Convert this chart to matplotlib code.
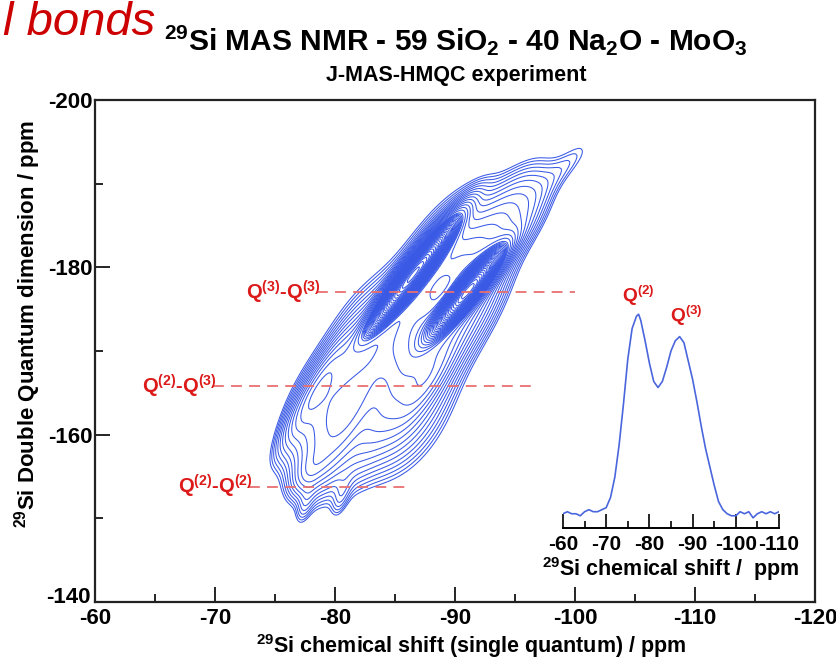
import numpy as np
import matplotlib
matplotlib.use("Agg")
import matplotlib.pyplot as plt
from matplotlib.ticker import MultipleLocator

plt.rcParams['font.family'] = ['Liberation Sans', 'DejaVu Sans']
plt.rcParams['font.weight'] = 'bold'
plt.rcParams['axes.labelweight'] = 'bold'
plt.rcParams['axes.unicode_minus'] = False
plt.rcParams['mathtext.fontset'] = 'custom'
plt.rcParams['mathtext.rm'] = 'Liberation Sans:bold'
plt.rcParams['mathtext.bf'] = 'Liberation Sans:bold'
plt.rcParams['mathtext.it'] = 'Liberation Sans:bold'
plt.rcParams['mathtext.default'] = 'bf'

#==============================================
# 1D 29Si MAS spectrum (inset)
shift_1d = [-60, -61, -62, -63, -64, -65, -66, -67, -68, -69, -70, -71, -72, -73,
            -74, -75, -76, -77, -77.5, -78, -79, -80, -81, -82, -83, -84, -85,
            -86, -87, -88, -89, -90, -91, -92, -93, -94, -95, -96, -97, -98,
            -99, -100, -101, -102, -103, -104, -105, -106, -107, -108, -109, -110]
inten_1d = [0.02, 0.03, 0.02, 0.02, 0.01, 0.03, 0.04, 0.03, 0.03, 0.04, 0.05, 0.10, 0.20, 0.36,
            0.56, 0.78, 0.93, 0.99, 1.00, 0.97, 0.87, 0.76, 0.67, 0.64, 0.67, 0.74, 0.82,
            0.87, 0.89, 0.86, 0.77, 0.68, 0.57, 0.45, 0.34, 0.25, 0.16, 0.08, 0.04, 0.02,
            0.01, 0.01, 0.03, 0.02, 0.03, 0.00, 0.02, 0.03, 0.02, 0.03, 0.02, 0.03]

# 2D J-MAS-HMQC : peaks (F2 single quantum, F1 double quantum), ppm
pk_name  = ['b_low', 'b_mid', 'b_up', 'b_top', 'tail', 'ridge_A', 'ridge_B', 'pit',
            'lr_left', 'lr_right', 'valley', 'q22', 'foot_l', 'foot_r']
pk_f2    = [-79.5, -84.5, -89.5, -95.0, -99.5, -86.5, -91.1, -88.7,
            -78.5, -87.8, -82.5, -77.8, -77.5, -80.5]
pk_f1    = [-160.5, -167.0, -177.5, -186.5, -192.5, -179.1, -177.2, -176.8,
            -165.5, -166.5, -162.0, -155.5, -151.5, -152.5]
pk_long  = [2.8, 3.6, 3.8, 2.6, 2.0, 2.4, 1.9, 1.3, 2.8, 2.0, 3.0, 1.2, 0.9, 0.9]
pk_short = [2.0, 2.8, 2.1, 1.3, 0.6, 0.42, 0.42, 0.6, 0.6, 0.6, 0.8, 0.6, 0.4, 0.4]
pk_amp   = [0.18, 0.22, 0.30, 0.10, 0.03, 3.0, 2.5, -0.08, 0.12, 0.08, -0.06, 0.05, 0.03, 0.03]
pk_angle = [55, 50, 48, 42, 35, 42, 40, 40, 50, 45, 55, 40, 65, 65]
pk_power = [1.2, 1.2, 1.2, 1.2, 1.0, 1.0, 1.0, 1.0, 1.0, 1.0, 1.0, 1.0, 1.0, 1.0]

# horizontal correlation lines: F1, F2 start, F2 end, label
corr_f1    = [-177.0, -165.8, -153.8]
corr_start = [-78.5, -69.8, -72.8]
corr_end   = [-100.0, -96.7, -86.0]
corr_label = [r'Q$^{(3)}$-Q$^{(3)}$', r'Q$^{(2)}$-Q$^{(3)}$', r'Q$^{(2)}$-Q$^{(2)}$']

#==============================================
F2 = np.arange(-60, -120.01, -0.15)
F1 = np.arange(-200, -139.99, 0.2)
X, Y = np.meshgrid(F2, F1)
Z = np.zeros_like(X)
for c2, c1, sl, ss, a, ang, p in zip(pk_f2, pk_f1, pk_long, pk_short, pk_amp, pk_angle, pk_power):
    t = np.deg2rad(ang)
    d2 = X - c2
    d1 = (Y - c1) / 2
    u = d2*np.cos(t) + d1*np.sin(t)
    v = -d2*np.sin(t) + d1*np.cos(t)
    Z += a*np.exp(-(0.5*(u/sl)**2 + 0.5*(v/ss)**2)**p)

# coarse levels on the broad part, tight levels on the two strong ridges
low_lv = 0.025 * 1.2**np.arange(15)
low_lv = low_lv[low_lv < 0.35]
high_lv = 0.35 * 1.08**np.arange(60)
levels = np.concatenate([low_lv, high_lv[high_lv < Z.max()]])

fig = plt.figure(figsize=(8.36, 6.59), dpi=100)
ax = fig.add_axes([95/836, 1-602/659, 720/836, 502/659])
ax.contour(X, Y, Z, levels=levels, colors='#3a5ae6', linewidths=0.75)

for f1, s, e, lab in zip(corr_f1, corr_start, corr_end, corr_label):
    ax.plot([s, e], [f1, f1], color='#e87070', lw=1.3, dashes=(6, 4))
    ax.text(s - 0.3, f1, lab, color='#dd1a1a', fontsize=14.5, ha='right', va='center')

ax.set_xlim(-60, -120)
ax.set_ylim(-140, -200)
ax.xaxis.set_major_locator(MultipleLocator(10))
ax.xaxis.set_minor_locator(MultipleLocator(5))
ax.set_yticks([-200, -180, -160, -140], ['-200', '-180', '-160', ''])
ax.yaxis.set_minor_locator(MultipleLocator(10))
ax.tick_params(which='both', direction='in', top=False, right=False, width=1.2, labelsize=16)
ax.tick_params(axis='x', which='major', length=11, pad=4)
ax.tick_params(axis='y', which='major', length=11, pad=2)
ax.tick_params(which='minor', length=6)
for s in ax.spines.values():
    s.set_linewidth(1.6)
    s.set_color('#222222')
# bottom y label sits a little higher so it clears the -60
ax.annotate('-140', xy=(0, 0), xycoords='axes fraction', xytext=(-3, 3),
            textcoords='offset points', ha='right', va='center', fontsize=16)

fig.text(471/836, 1-646/659, r'$^{29}$Si chemical shift (single quantum) / ppm',
         ha='center', va='center', fontsize=15.5)
fig.text(28/836, 1-324/659, r'$^{29}$Si Double Quantum dimension / ppm',
         ha='center', va='center', rotation=90, fontsize=16)

# inset 1D spectrum
axi = fig.add_axes([563/836, 1-528/659, 216/836, 228/659])
axi.plot(shift_1d, inten_1d, color='#4a66dd', lw=1.2)
axi.set_xlim(-60, -110)
axi.set_ylim(-0.05, 1.07)
axi.patch.set_alpha(0)
for k in ['top', 'left', 'right']:
    axi.spines[k].set_visible(False)
axi.spines['bottom'].set_linewidth(1.4)
axi.set_yticks([])
axi.xaxis.set_major_locator(MultipleLocator(10))
axi.xaxis.set_minor_locator(MultipleLocator(5))
axi.tick_params(which='both', direction='in', width=1.2, labelsize=15, pad=5)
axi.tick_params(which='major', length=10)
axi.tick_params(which='minor', length=5)
axi.set_xlabel(r'$^{29}$Si chemical shift /  ppm', fontsize=15.5, labelpad=1)
axi.text(-77.5, 1.03, r'Q$^{(2)}$', color='#dd1a1a', fontsize=13.8, ha='center', va='bottom')
axi.text(-88.5, 0.93, r'Q$^{(3)}$', color='#dd1a1a', fontsize=13.8, ha='center', va='bottom')

fig.text(456/836, 1-40/659, r'$^{29}$Si MAS NMR - 59 SiO$_2$ - 40 Na$_2$O - MoO$_3$',
         ha='center', va='center', fontsize=21.5)
fig.text(456/836, 1-75/659, 'J-MAS-HMQC experiment', ha='center', va='center', fontsize=15.5)
fig.text(3/836, 1-35/659, 'l bonds', color='#cc0000', fontsize=34, style='italic',
         fontweight='normal', ha='left', va='baseline')

fig.savefig('out.png', dpi=100)
